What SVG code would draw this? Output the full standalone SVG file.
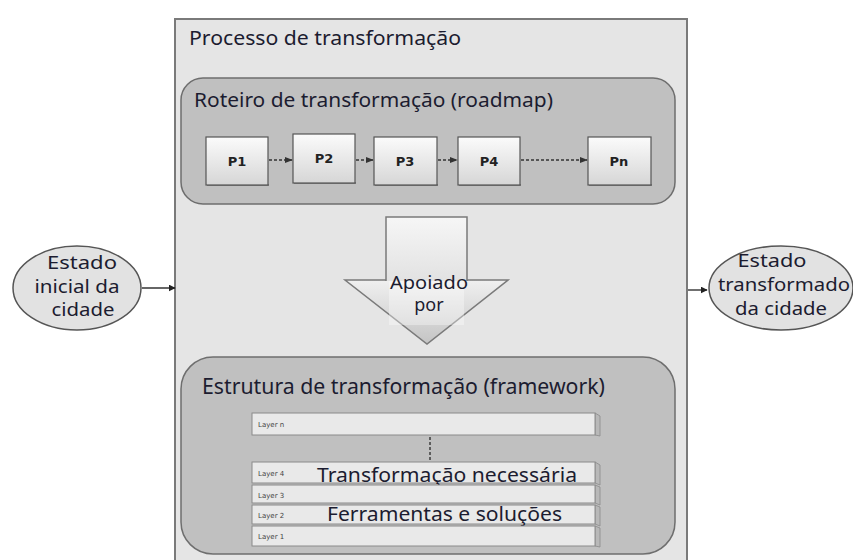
<svg xmlns="http://www.w3.org/2000/svg" width="853" height="560" viewBox="0 0 853 560">
<defs>
<linearGradient id="gBox" x1="0" y1="0" x2="0" y2="1"><stop offset="0" stop-color="#fbfbfb"/><stop offset="1" stop-color="#d6d6d6"/></linearGradient>
<linearGradient id="gHead" x1="0" y1="0" x2="0" y2="1"><stop offset="0" stop-color="#f0f0f0"/><stop offset="1" stop-color="#c4c4c4"/></linearGradient>
<linearGradient id="gShaft" x1="0" y1="0" x2="0" y2="1"><stop offset="0" stop-color="#f6f6f6"/><stop offset="1" stop-color="#e2e2e2"/></linearGradient>
<marker id="ah" viewBox="0 0 10 10" refX="9" refY="5" markerWidth="7" markerHeight="7" orient="auto" markerUnits="userSpaceOnUse"><path d="M0,0 L10,5 L0,10 z" fill="#222"/></marker>
<marker id="ahs" viewBox="0 0 10 10" refX="9" refY="5" markerWidth="8" markerHeight="8" orient="auto" markerUnits="userSpaceOnUse"><path d="M0,1 L10,5 L0,9 z" fill="#333"/></marker>
</defs>
<style>
.t{font-family:"Noto Sans","DejaVu Sans",sans-serif;fill:#1c1c30}
.pb{fill:url(#gBox);stroke:#555;stroke-width:1.2}
.sh{fill:#555;opacity:0.6}
.pl{font-family:"DejaVu Sans",sans-serif;font-weight:bold;font-size:13px;fill:#222;text-anchor:middle}
.grp{fill:#c0c0c0;stroke:#6e6e6e;stroke-width:1.5}
.ell{fill:#e2e2e2;stroke:#555;stroke-width:1.5}
.lf{fill:#e9e9e9;stroke:#8a8a8a;stroke-width:1}
.ls{fill:#b8b8b8;stroke:#8a8a8a;stroke-width:0.8}
.ll{font-family:"DejaVu Sans",sans-serif;font-size:7px;fill:#444}
.con{stroke:#333;stroke-width:1.4;fill:none}
.dash{stroke-dasharray:3 2}
</style>
<rect width="853" height="560" fill="#ffffff"/>
<g id="processo">
<rect x="175" y="19" width="512" height="560" fill="#e5e5e5" stroke="#7a7a7a" stroke-width="2"/>
<text class="t" x="189" y="45" font-size="19" textLength="272" lengthAdjust="spacingAndGlyphs">Processo de transformação</text>
</g>
<g id="roadmap">
<rect class="grp" x="181" y="78" width="494" height="126" rx="22"/>
<text class="t" x="194" y="107" font-size="20" textLength="359" lengthAdjust="spacingAndGlyphs">Roteiro de transformação (roadmap)</text>
</g>
<g id="p1"><rect class="sh" x="207" y="184" width="62" height="2"/><rect class="pb" x="206" y="137" width="62" height="48"/><text class="pl" x="237" y="166">P1</text></g>
<g id="p2"><rect class="sh" x="294" y="182" width="62" height="2"/><rect class="pb" x="293" y="134" width="62" height="49"/><text class="pl" x="324" y="163">P2</text></g>
<g id="p3"><rect class="sh" x="375" y="184" width="63" height="2"/><rect class="pb" x="374" y="137" width="63" height="48"/><text class="pl" x="405" y="166">P3</text></g>
<g id="p4"><rect class="sh" x="459" y="184" width="62" height="2"/><rect class="pb" x="458" y="137" width="62" height="48"/><text class="pl" x="489" y="166">P4</text></g>
<g id="pn"><rect class="sh" x="589" y="184" width="63" height="2"/><rect class="pb" x="588" y="137" width="63" height="48"/><text class="pl" x="619" y="166">Pn</text></g>
<g id="apoiado">
<polygon points="345,280 508,280 427,344" fill="url(#gHead)" stroke="#7a7a7a" stroke-width="1.5"/>
<rect x="389" y="280" width="75" height="45" fill="#ffffff" opacity="0.35"/>
<path d="M386,281 L386,217 L467,217 L467,281" fill="url(#gShaft)" stroke="#7a7a7a" stroke-width="1.5"/>
<text class="t" x="429" y="289" font-size="18" text-anchor="middle" textLength="78" lengthAdjust="spacingAndGlyphs">Apoiado</text>
<text class="t" x="429" y="311" font-size="18" text-anchor="middle">por</text>
</g>
<g id="estado-inicial">
<ellipse class="ell" cx="77" cy="288" rx="64" ry="42"/>
<text class="t" x="82" y="269" font-size="18" text-anchor="middle" textLength="70" lengthAdjust="spacingAndGlyphs">Estado</text>
<text class="t" x="77" y="293" font-size="18" text-anchor="middle" textLength="85" lengthAdjust="spacingAndGlyphs">inicial da</text>
<text class="t" x="83" y="316" font-size="18" text-anchor="middle" textLength="63" lengthAdjust="spacingAndGlyphs">cidade</text>
</g>
<g id="estado-transformado">
<ellipse class="ell" cx="781" cy="288" rx="72" ry="42"/>
<text class="t" x="772" y="267" font-size="18" text-anchor="middle" textLength="69" lengthAdjust="spacingAndGlyphs">Estado</text>
<text class="t" x="784" y="291" font-size="18" text-anchor="middle" textLength="132" lengthAdjust="spacingAndGlyphs">transformado</text>
<text class="t" x="781" y="315" font-size="18" text-anchor="middle" textLength="92" lengthAdjust="spacingAndGlyphs">da cidade</text>
</g>
<g id="framework">
<rect class="grp" x="181" y="357" width="494" height="197" rx="32"/>
<text class="t" x="202" y="394" font-size="21" textLength="403" lengthAdjust="spacingAndGlyphs">Estrutura de transformação (framework)</text>
</g>
<g id="layer-n">
<polygon class="ls" points="595,413 600,416 600,436 595,435"/>
<rect class="lf" x="252" y="413" width="343" height="22"/>
<text class="ll" x="258" y="427">Layer n</text>
</g>
<g id="layer-4">
<polygon class="ls" points="595,462 600,465 600,485 595,483"/>
<rect class="lf" x="252" y="462" width="343" height="21"/>
<text class="ll" x="258" y="476">Layer 4</text>
<text class="t" x="317" y="482" font-size="19" textLength="260" lengthAdjust="spacingAndGlyphs">Transformação necessária</text>
</g>
<g id="layer-3">
<polygon class="ls" points="595,485 600,487 600,505 595,503"/>
<rect class="lf" x="252" y="485" width="343" height="18"/>
<text class="ll" x="258" y="498">Layer 3</text>
</g>
<g id="layer-2">
<polygon class="ls" points="595,505 600,507 600,526 595,524"/>
<rect class="lf" x="252" y="505" width="343" height="19"/>
<text class="ll" x="258" y="518">Layer 2</text>
<text class="t" x="327" y="521" font-size="19" textLength="235" lengthAdjust="spacingAndGlyphs">Ferramentas e soluções</text>
</g>
<g id="layer-1">
<polygon class="ls" points="595,526 600,528 600,547 595,546"/>
<rect class="lf" x="252" y="526" width="343" height="20"/>
<text class="ll" x="258" y="539">Layer 1</text>
</g>
<g id="connectors">
<line class="con" x1="142" y1="288" x2="175" y2="288" marker-end="url(#ah)"/>
<line class="con" x1="688" y1="290" x2="707" y2="290" marker-end="url(#ah)"/>
<line class="con dash" x1="269" y1="160" x2="292" y2="160" marker-end="url(#ahs)"/>
<line class="con dash" x1="356" y1="160" x2="373" y2="160" marker-end="url(#ahs)"/>
<line class="con dash" x1="438" y1="160" x2="457" y2="160" marker-end="url(#ahs)"/>
<line class="con dash" x1="521" y1="160" x2="587" y2="160" marker-end="url(#ahs)"/>
<line class="con dash" x1="430" y1="437" x2="430" y2="461"/>
</g>
</svg>
